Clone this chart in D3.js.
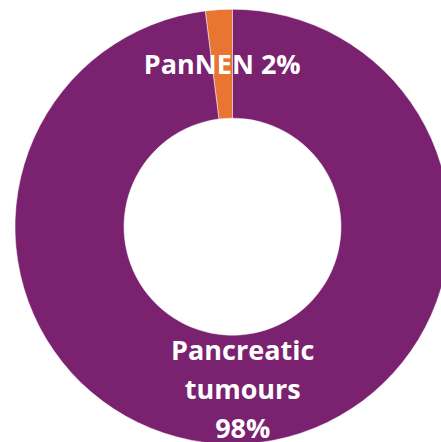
<!DOCTYPE html>
<meta charset="utf-8">
<body>
<script src="https://cdn.jsdelivr.net/npm/d3@7"></script>
<style>
    html, body {
        margin: 0;
        background: #fff;
    }
</style>
<script>
var categories = ["PanNEN", "Pancreatic tumours"],
    values = [2, 98],
    labels = [["PanNEN 2%"], ["Pancreatic", "tumours", "98%"]],
    colors = ["#e87532", "#7a2170"];

var width = 441,
    height = 442,
    cx = 232.5,
    cy = 226.7,
    outerR = 217.5,
    innerR = 108.5;

var svg = d3.select("body").append("svg")
    .attr("width", width)
    .attr("height", height)
    .append("g")
    .attr("transform", "translate(" + [cx, cy] + ")");

var total = d3.sum(values),
    start = -2 * Math.PI * values[0] / total;

var pie = d3.pie()
    .sort(null)
    .startAngle(start)
    .endAngle(start + 2 * Math.PI);

var arc = d3.arc()
    .innerRadius(innerR)
    .outerRadius(outerR);

var slices = pie(values);

svg.selectAll("path")
    .data(slices)
    .enter().append("path")
    .attr("d", arc)
    .attr("fill", function(d, i) { return colors[i]; })
    .attr("stroke", "#fff")
    .attr("stroke-width", 0.5);

var lineH = 39;

svg.selectAll("text.label")
    .data(slices)
    .enter().append("text")
    .attr("class", "label")
    .attr("transform", function(d) { return "translate(" + arc.centroid(d) + ")"; })
    .attr("text-anchor", "middle")
    .attr("fill", "#fff")
    .style("font-family", "'Open Sans', sans-serif")
    .style("font-weight", "bold")
    .style("font-size", "27px")
    .each(function(d, i) {
        var lines = labels[i],
            off = -(lines.length - 1) / 2 * lineH;
        d3.select(this).selectAll("tspan")
            .data(lines)
            .enter().append("tspan")
            .attr("x", 0)
            .attr("y", function(t, j) { return off + j * lineH; })
            .attr("dy", "0.36em")
            .text(function(t) { return t; });
    });
</script>
